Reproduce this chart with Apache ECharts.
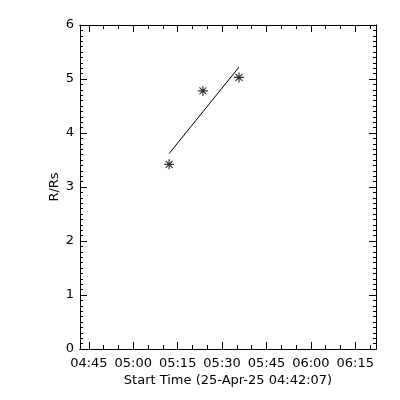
<!DOCTYPE html>
<html>
<head>
<meta charset="utf-8">
<script src="https://cdn.jsdelivr.net/npm/echarts@6/dist/echarts.min.js"></script>
<style>html,body{margin:0;padding:0;background:#fff}#c{width:400px;height:400px}</style>
</head>
<body>
<div id="c"></div>
<script>
// ---- data ----
const pointTimes = ['05:12:07', '05:23:32', '05:35:43'];
const pointValues = [3.42, 4.78, 5.03];
const fitTimes = ['05:12:07', '05:35:43'];
const fitValues = [3.62, 5.22];
const xMajorLabels = ['04:45', '05:00', '05:15', '05:30', '05:45', '06:00', '06:15'];
const xMinorLabels = ['04:45','04:50','04:55','05:00','05:05','05:10','05:15','05:20','05:25','05:30','05:35','05:40','05:45','05:50','05:55','06:00','06:05','06:10','06:15','06:20'];
const xRange = ['04:42:00', '06:22:00'];
const yTicks = [0, 1, 2, 3, 4, 5, 6];
const xTitle = 'Start Time (25-Apr-25 04:42:07)';
const yTitle = 'R/Rs';

function toMin(s) {
  const p = s.split(':').map(Number);
  return p[0] * 60 + p[1] + (p[2] || 0) / 60;
}
function fmt(v) {
  const h = Math.floor(v / 60 + 1e-9), m = Math.round(v - h * 60);
  return String(h).padStart(2, '0') + ':' + String(m).padStart(2, '0');
}
const xMin = toMin(xRange[0]), xMax = toMin(xRange[1]);
const majors = xMajorLabels.map(toMin);
const minors = xMinorLabels.map(toMin);
const font = {fontFamily: 'DejaVu Sans', fontSize: 13, color: '#000'};
const lineStyle = {color: '#000', width: 1};
const gridPos = {left: 80, right: 24, top: 25, bottom: 51};

function xAx(gridIndex, position, ticks, len, showLabel, name) {
  return {
    type: 'value', gridIndex, position, min: xMin, max: xMax,
    axisLine: {show: true, onZero: false, lineStyle},
    axisTick: {show: true, inside: true, length: len, customValues: ticks, lineStyle},
    axisLabel: {show: showLabel, customValues: ticks, formatter: fmt, margin: 8, ...font},
    splitLine: {show: false},
    name: name || '', nameLocation: 'middle', nameGap: 25, nameMoveOverlap: false, nameTextStyle: font
  };
}
function yAx(gridIndex, position, showLabel, show, name) {
  return {
    type: 'value', gridIndex, position, min: yTicks[0], max: yTicks[yTicks.length - 1], interval: 1, show,
    axisLine: {show: true, onZero: false, lineStyle},
    axisTick: {show: true, inside: true, length: 7, lineStyle},
    minorTick: {show: true, splitNumber: 10, length: 3, lineStyle},
    axisLabel: {show: showLabel, margin: 6, ...font},
    splitLine: {show: false},
    name: name || '', nameLocation: 'middle', nameGap: 19, nameMoveOverlap: false, nameTextStyle: font
  };
}

const chart = echarts.init(document.getElementById('c'), null, {renderer: 'canvas'});
chart.setOption({
  animation: false,
  backgroundColor: '#fff',
  grid: [Object.assign({}, gridPos), Object.assign({}, gridPos)],
  xAxis: [
    xAx(0, 'bottom', majors, 7, true, xTitle),
    xAx(0, 'top', majors, 7, false),
    xAx(1, 'bottom', minors, 4, false),
    xAx(1, 'top', minors, 4, false)
  ],
  yAxis: [
    yAx(0, 'left', true, true, yTitle),
    yAx(0, 'right', false, true),
    yAx(1, 'left', false, false)
  ],
  series: [
    {
      type: 'line', xAxisIndex: 0, yAxisIndex: 0,
      data: fitTimes.map((t, i) => [toMin(t), fitValues[i]]),
      showSymbol: false, symbol: 'none', lineStyle: {color: '#000', width: 1}
    },
    {
      type: 'scatter', xAxisIndex: 0, yAxisIndex: 0,
      data: pointTimes.map((t, i) => [toMin(t), pointValues[i]]),
      symbol: 'path://M5,0L5,10M0,5L10,5M1.5,1.5L8.5,8.5M1.5,8.5L8.5,1.5',
      symbolSize: 10,
      itemStyle: {color: 'transparent', borderColor: '#000', borderWidth: 1.2}
    }
  ]
});
</script>
</body>
</html>
